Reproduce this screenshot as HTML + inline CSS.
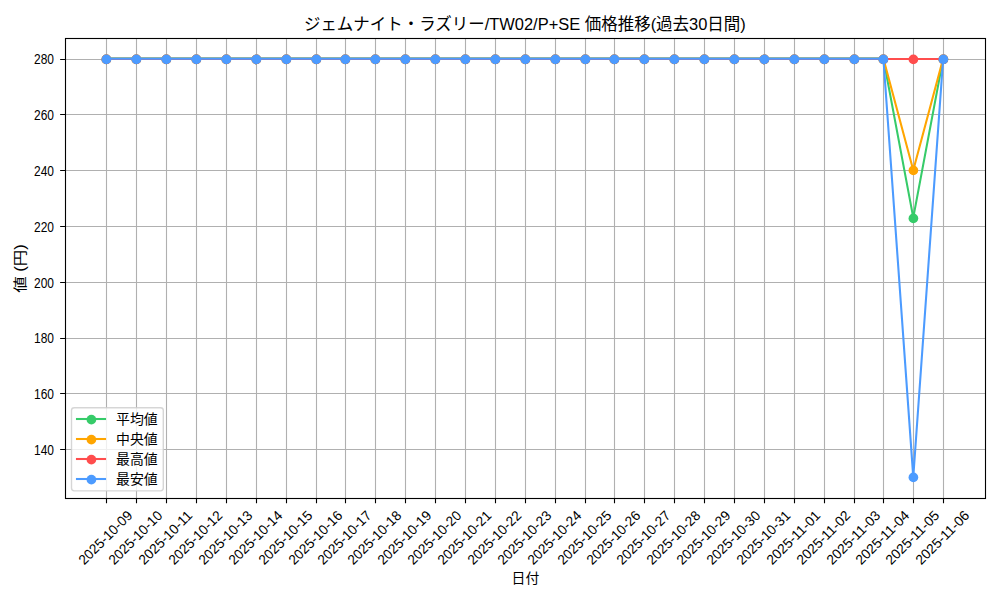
<!DOCTYPE html>
<html lang="ja">
<head>
<meta charset="utf-8">
<title>ジェムナイト・ラズリー/TW02/P+SE 価格推移(過去30日間)</title>
<style>
html,body{margin:0;padding:0;background:#fff;}
body{width:1000px;height:600px;overflow:hidden;font-family:"Liberation Sans",sans-serif;}
svg{display:block;}
svg text{font-family:"Liberation Sans","Noto Sans CJK JP",sans-serif;fill:#000;}
</style>
</head>
<body>
<svg width="1000" height="600" viewBox="0 0 1000 600" role="img" aria-label="ジェムナイト・ラズリー/TW02/P+SE 価格推移(過去30日間)">
<defs><clipPath id="ax"><rect x="65.5" y="38.5" width="920" height="460"/></clipPath></defs>
<rect width="1000" height="600" fill="#fff"/>
<path d="M106.5 37.67V498.02M136.5 37.67V498.02M166.5 37.67V498.02M196.5 37.67V498.02M226.5 37.67V498.02M256.5 37.67V498.02M286.5 37.67V498.02M316.5 37.67V498.02M345.5 37.67V498.02M375.5 37.67V498.02M405.5 37.67V498.02M435.5 37.67V498.02M465.5 37.67V498.02M495.5 37.67V498.02M525.5 37.67V498.02M555.5 37.67V498.02M585.5 37.67V498.02M614.5 37.67V498.02M644.5 37.67V498.02M674.5 37.67V498.02M704.5 37.67V498.02M734.5 37.67V498.02M764.5 37.67V498.02M794.5 37.67V498.02M824.5 37.67V498.02M854.5 37.67V498.02M883.5 37.67V498.02M913.5 37.67V498.02M943.5 37.67V498.02M64.54 449.5H985M64.54 393.5H985M64.54 338.5H985M64.54 282.5H985M64.54 226.5H985M64.54 170.5H985M64.54 114.5H985M64.54 59.5H985" fill="none" stroke="#b0b0b0" stroke-width="1.11" clip-path="url(#ax)"/>
<path d="M106.5 498.5V503.36M136.5 498.5V503.36M166.5 498.5V503.36M196.5 498.5V503.36M226.5 498.5V503.36M256.5 498.5V503.36M286.5 498.5V503.36M316.5 498.5V503.36M345.5 498.5V503.36M375.5 498.5V503.36M405.5 498.5V503.36M435.5 498.5V503.36M465.5 498.5V503.36M495.5 498.5V503.36M525.5 498.5V503.36M555.5 498.5V503.36M585.5 498.5V503.36M614.5 498.5V503.36M644.5 498.5V503.36M674.5 498.5V503.36M704.5 498.5V503.36M734.5 498.5V503.36M764.5 498.5V503.36M794.5 498.5V503.36M824.5 498.5V503.36M854.5 498.5V503.36M883.5 498.5V503.36M913.5 498.5V503.36M943.5 498.5V503.36M65.5 449.5H60.14M65.5 393.5H60.14M65.5 338.5H60.14M65.5 282.5H60.14M65.5 226.5H60.14M65.5 170.5H60.14M65.5 114.5H60.14M65.5 59.5H60.14" fill="none" stroke="#000" stroke-width="1.11"/>
<g clip-path="url(#ax)">
<polyline points="106.38,58.6 136.26,58.6 166.15,58.6 196.03,58.6 225.92,58.6 255.81,58.6 285.69,58.6 315.57,58.6 345.46,58.6 375.34,58.6 405.23,58.6 435.11,58.6 465,58.6 494.88,58.6 524.77,58.6 554.65,58.6 584.54,58.6 614.42,58.6 644.31,58.6 674.19,58.6 704.08,58.6 733.96,58.6 763.85,58.6 793.73,58.6 823.62,58.6 853.5,58.6 883.39,58.6 913.27,217.63 943.16,58.6" fill="none" stroke="#36cb69" stroke-width="2.08" stroke-linejoin="round" stroke-linecap="square"/><g fill="#36cb69"><circle cx="106.4" cy="59.4" r="4.86"/><circle cx="136.4" cy="59.4" r="4.86"/><circle cx="166.4" cy="59.4" r="4.86"/><circle cx="196.4" cy="59.4" r="4.86"/><circle cx="226.4" cy="59.4" r="4.86"/><circle cx="256.4" cy="59.4" r="4.86"/><circle cx="286.4" cy="59.4" r="4.86"/><circle cx="316.4" cy="59.4" r="4.86"/><circle cx="345.4" cy="59.4" r="4.86"/><circle cx="375.4" cy="59.4" r="4.86"/><circle cx="405.4" cy="59.4" r="4.86"/><circle cx="435.4" cy="59.4" r="4.86"/><circle cx="465.4" cy="59.4" r="4.86"/><circle cx="495.4" cy="59.4" r="4.86"/><circle cx="525.4" cy="59.4" r="4.86"/><circle cx="555.4" cy="59.4" r="4.86"/><circle cx="585.4" cy="59.4" r="4.86"/><circle cx="614.4" cy="59.4" r="4.86"/><circle cx="644.4" cy="59.4" r="4.86"/><circle cx="674.4" cy="59.4" r="4.86"/><circle cx="704.4" cy="59.4" r="4.86"/><circle cx="734.4" cy="59.4" r="4.86"/><circle cx="764.4" cy="59.4" r="4.86"/><circle cx="794.4" cy="59.4" r="4.86"/><circle cx="824.4" cy="59.4" r="4.86"/><circle cx="854.4" cy="59.4" r="4.86"/><circle cx="883.4" cy="59.4" r="4.86"/><circle cx="913.4" cy="218.4" r="4.86"/><circle cx="943.4" cy="59.4" r="4.86"/></g>
<polyline points="106.38,58.6 136.26,58.6 166.15,58.6 196.03,58.6 225.92,58.6 255.81,58.6 285.69,58.6 315.57,58.6 345.46,58.6 375.34,58.6 405.23,58.6 435.11,58.6 465,58.6 494.88,58.6 524.77,58.6 554.65,58.6 584.54,58.6 614.42,58.6 644.31,58.6 674.19,58.6 704.08,58.6 733.96,58.6 763.85,58.6 793.73,58.6 823.62,58.6 853.5,58.6 883.39,58.6 913.27,170.2 943.16,58.6" fill="none" stroke="#ffa500" stroke-width="2.08" stroke-linejoin="round" stroke-linecap="square"/><g fill="#ffa500"><circle cx="106.4" cy="59.4" r="4.86"/><circle cx="136.4" cy="59.4" r="4.86"/><circle cx="166.4" cy="59.4" r="4.86"/><circle cx="196.4" cy="59.4" r="4.86"/><circle cx="226.4" cy="59.4" r="4.86"/><circle cx="256.4" cy="59.4" r="4.86"/><circle cx="286.4" cy="59.4" r="4.86"/><circle cx="316.4" cy="59.4" r="4.86"/><circle cx="345.4" cy="59.4" r="4.86"/><circle cx="375.4" cy="59.4" r="4.86"/><circle cx="405.4" cy="59.4" r="4.86"/><circle cx="435.4" cy="59.4" r="4.86"/><circle cx="465.4" cy="59.4" r="4.86"/><circle cx="495.4" cy="59.4" r="4.86"/><circle cx="525.4" cy="59.4" r="4.86"/><circle cx="555.4" cy="59.4" r="4.86"/><circle cx="585.4" cy="59.4" r="4.86"/><circle cx="614.4" cy="59.4" r="4.86"/><circle cx="644.4" cy="59.4" r="4.86"/><circle cx="674.4" cy="59.4" r="4.86"/><circle cx="704.4" cy="59.4" r="4.86"/><circle cx="734.4" cy="59.4" r="4.86"/><circle cx="764.4" cy="59.4" r="4.86"/><circle cx="794.4" cy="59.4" r="4.86"/><circle cx="824.4" cy="59.4" r="4.86"/><circle cx="854.4" cy="59.4" r="4.86"/><circle cx="883.4" cy="59.4" r="4.86"/><circle cx="913.4" cy="170.4" r="4.86"/><circle cx="943.4" cy="59.4" r="4.86"/></g>
<polyline points="106.38,59 136.26,59 166.15,59 196.03,59 225.92,59 255.81,59 285.69,59 315.57,59 345.46,59 375.34,59 405.23,59 435.11,59 465,59 494.88,59 524.77,59 554.65,59 584.54,59 614.42,59 644.31,59 674.19,59 704.08,59 733.96,59 763.85,59 793.73,59 823.62,59 853.5,59 883.39,59 913.27,59 943.16,59" fill="none" stroke="#ff4d4d" stroke-width="2.08" stroke-linejoin="round" stroke-linecap="square"/><g fill="#ff4d4d"><circle cx="106.4" cy="59.4" r="4.86"/><circle cx="136.4" cy="59.4" r="4.86"/><circle cx="166.4" cy="59.4" r="4.86"/><circle cx="196.4" cy="59.4" r="4.86"/><circle cx="226.4" cy="59.4" r="4.86"/><circle cx="256.4" cy="59.4" r="4.86"/><circle cx="286.4" cy="59.4" r="4.86"/><circle cx="316.4" cy="59.4" r="4.86"/><circle cx="345.4" cy="59.4" r="4.86"/><circle cx="375.4" cy="59.4" r="4.86"/><circle cx="405.4" cy="59.4" r="4.86"/><circle cx="435.4" cy="59.4" r="4.86"/><circle cx="465.4" cy="59.4" r="4.86"/><circle cx="495.4" cy="59.4" r="4.86"/><circle cx="525.4" cy="59.4" r="4.86"/><circle cx="555.4" cy="59.4" r="4.86"/><circle cx="585.4" cy="59.4" r="4.86"/><circle cx="614.4" cy="59.4" r="4.86"/><circle cx="644.4" cy="59.4" r="4.86"/><circle cx="674.4" cy="59.4" r="4.86"/><circle cx="704.4" cy="59.4" r="4.86"/><circle cx="734.4" cy="59.4" r="4.86"/><circle cx="764.4" cy="59.4" r="4.86"/><circle cx="794.4" cy="59.4" r="4.86"/><circle cx="824.4" cy="59.4" r="4.86"/><circle cx="854.4" cy="59.4" r="4.86"/><circle cx="883.4" cy="59.4" r="4.86"/><circle cx="913.4" cy="59.4" r="4.86"/><circle cx="943.4" cy="59.4" r="4.86"/></g>
<polyline points="106.38,58.6 136.26,58.6 166.15,58.6 196.03,58.6 225.92,58.6 255.81,58.6 285.69,58.6 315.57,58.6 345.46,58.6 375.34,58.6 405.23,58.6 435.11,58.6 465,58.6 494.88,58.6 524.77,58.6 554.65,58.6 584.54,58.6 614.42,58.6 644.31,58.6 674.19,58.6 704.08,58.6 733.96,58.6 763.85,58.6 793.73,58.6 823.62,58.6 853.5,58.6 883.39,58.6 913.27,477.1 943.16,58.6" fill="none" stroke="#4c9bff" stroke-width="2.08" stroke-linejoin="round" stroke-linecap="square"/><g fill="#4c9bff"><circle cx="106.4" cy="59.4" r="4.86"/><circle cx="136.4" cy="59.4" r="4.86"/><circle cx="166.4" cy="59.4" r="4.86"/><circle cx="196.4" cy="59.4" r="4.86"/><circle cx="226.4" cy="59.4" r="4.86"/><circle cx="256.4" cy="59.4" r="4.86"/><circle cx="286.4" cy="59.4" r="4.86"/><circle cx="316.4" cy="59.4" r="4.86"/><circle cx="345.4" cy="59.4" r="4.86"/><circle cx="375.4" cy="59.4" r="4.86"/><circle cx="405.4" cy="59.4" r="4.86"/><circle cx="435.4" cy="59.4" r="4.86"/><circle cx="465.4" cy="59.4" r="4.86"/><circle cx="495.4" cy="59.4" r="4.86"/><circle cx="525.4" cy="59.4" r="4.86"/><circle cx="555.4" cy="59.4" r="4.86"/><circle cx="585.4" cy="59.4" r="4.86"/><circle cx="614.4" cy="59.4" r="4.86"/><circle cx="644.4" cy="59.4" r="4.86"/><circle cx="674.4" cy="59.4" r="4.86"/><circle cx="704.4" cy="59.4" r="4.86"/><circle cx="734.4" cy="59.4" r="4.86"/><circle cx="764.4" cy="59.4" r="4.86"/><circle cx="794.4" cy="59.4" r="4.86"/><circle cx="824.4" cy="59.4" r="4.86"/><circle cx="854.4" cy="59.4" r="4.86"/><circle cx="883.4" cy="59.4" r="4.86"/><circle cx="913.4" cy="477.4" r="4.86"/><circle cx="943.4" cy="59.4" r="4.86"/></g>
</g>
<rect x="65.5" y="38.5" width="920" height="460" fill="none" stroke="#000" stroke-width="1.11"/>
<g font-size="13.89" text-anchor="end">
<text x="54" y="455" textLength="20" lengthAdjust="spacingAndGlyphs">140</text>
<text x="54" y="399" textLength="20" lengthAdjust="spacingAndGlyphs">160</text>
<text x="54" y="343" textLength="20" lengthAdjust="spacingAndGlyphs">180</text>
<text x="54" y="288" textLength="20" lengthAdjust="spacingAndGlyphs">200</text>
<text x="54" y="232" textLength="20" lengthAdjust="spacingAndGlyphs">220</text>
<text x="54" y="176" textLength="20" lengthAdjust="spacingAndGlyphs">240</text>
<text x="54" y="120" textLength="20" lengthAdjust="spacingAndGlyphs">260</text>
<text x="54" y="64" textLength="20" lengthAdjust="spacingAndGlyphs">280</text>
</g>
<g font-size="13.89">
<text transform="translate(84.15 565.52) rotate(-45)" textLength="69.4" lengthAdjust="spacingAndGlyphs">2025-10-09</text>
<text transform="translate(114.15 565.52) rotate(-45)" textLength="69.4" lengthAdjust="spacingAndGlyphs">2025-10-10</text>
<text transform="translate(144.15 565.52) rotate(-45)" textLength="69.4" lengthAdjust="spacingAndGlyphs">2025-10-11</text>
<text transform="translate(174.15 565.52) rotate(-45)" textLength="69.4" lengthAdjust="spacingAndGlyphs">2025-10-12</text>
<text transform="translate(204.15 565.52) rotate(-45)" textLength="69.4" lengthAdjust="spacingAndGlyphs">2025-10-13</text>
<text transform="translate(234.15 565.52) rotate(-45)" textLength="69.4" lengthAdjust="spacingAndGlyphs">2025-10-14</text>
<text transform="translate(264.15 565.52) rotate(-45)" textLength="69.4" lengthAdjust="spacingAndGlyphs">2025-10-15</text>
<text transform="translate(294.15 565.52) rotate(-45)" textLength="69.4" lengthAdjust="spacingAndGlyphs">2025-10-16</text>
<text transform="translate(323.15 565.52) rotate(-45)" textLength="69.4" lengthAdjust="spacingAndGlyphs">2025-10-17</text>
<text transform="translate(353.15 565.52) rotate(-45)" textLength="69.4" lengthAdjust="spacingAndGlyphs">2025-10-18</text>
<text transform="translate(383.15 565.52) rotate(-45)" textLength="69.4" lengthAdjust="spacingAndGlyphs">2025-10-19</text>
<text transform="translate(413.15 565.52) rotate(-45)" textLength="69.4" lengthAdjust="spacingAndGlyphs">2025-10-20</text>
<text transform="translate(443.15 565.52) rotate(-45)" textLength="69.4" lengthAdjust="spacingAndGlyphs">2025-10-21</text>
<text transform="translate(473.15 565.52) rotate(-45)" textLength="69.4" lengthAdjust="spacingAndGlyphs">2025-10-22</text>
<text transform="translate(503.15 565.52) rotate(-45)" textLength="69.4" lengthAdjust="spacingAndGlyphs">2025-10-23</text>
<text transform="translate(533.15 565.52) rotate(-45)" textLength="69.4" lengthAdjust="spacingAndGlyphs">2025-10-24</text>
<text transform="translate(563.15 565.52) rotate(-45)" textLength="69.4" lengthAdjust="spacingAndGlyphs">2025-10-25</text>
<text transform="translate(592.15 565.52) rotate(-45)" textLength="69.4" lengthAdjust="spacingAndGlyphs">2025-10-26</text>
<text transform="translate(622.15 565.52) rotate(-45)" textLength="69.4" lengthAdjust="spacingAndGlyphs">2025-10-27</text>
<text transform="translate(652.15 565.52) rotate(-45)" textLength="69.4" lengthAdjust="spacingAndGlyphs">2025-10-28</text>
<text transform="translate(682.15 565.52) rotate(-45)" textLength="69.4" lengthAdjust="spacingAndGlyphs">2025-10-29</text>
<text transform="translate(712.15 565.52) rotate(-45)" textLength="69.4" lengthAdjust="spacingAndGlyphs">2025-10-30</text>
<text transform="translate(742.15 565.52) rotate(-45)" textLength="69.4" lengthAdjust="spacingAndGlyphs">2025-10-31</text>
<text transform="translate(772.15 565.52) rotate(-45)" textLength="69.4" lengthAdjust="spacingAndGlyphs">2025-11-01</text>
<text transform="translate(802.15 565.52) rotate(-45)" textLength="69.4" lengthAdjust="spacingAndGlyphs">2025-11-02</text>
<text transform="translate(832.15 565.52) rotate(-45)" textLength="69.4" lengthAdjust="spacingAndGlyphs">2025-11-03</text>
<text transform="translate(861.15 565.52) rotate(-45)" textLength="69.4" lengthAdjust="spacingAndGlyphs">2025-11-04</text>
<text transform="translate(891.15 565.52) rotate(-45)" textLength="69.4" lengthAdjust="spacingAndGlyphs">2025-11-05</text>
<text transform="translate(921.15 565.52) rotate(-45)" textLength="69.4" lengthAdjust="spacingAndGlyphs">2025-11-06</text>
</g>
<text x="303.94" y="29.6" font-size="16.67" textLength="441.8" lengthAdjust="spacingAndGlyphs">ジェムナイト・ラズリー/TW02/P+SE 価格推移(過去30日間)</text>
<text x="525.5" y="583.35" font-size="13.89" text-anchor="middle">日付</text>
<text transform="translate(25 292.81) rotate(-90)" font-size="13.89" textLength="48.6" lengthAdjust="spacingAndGlyphs">値 (円)</text>
<rect x="71.5" y="407.8" width="91.8" height="83.1" rx="2.78" fill="#fff" fill-opacity="0.8" stroke="#ccc" stroke-opacity="0.8" stroke-width="1.39"/>
<path d="M77 419H105" stroke="#36cb69" stroke-width="2.08" stroke-linecap="square" fill="none"/>
<circle cx="91.4" cy="419.65" r="4.86" fill="#36cb69"/>
<text x="116" y="424" font-size="13.89">平均値</text>
<path d="M77 439H105" stroke="#ffa500" stroke-width="2.08" stroke-linecap="square" fill="none"/>
<circle cx="91.4" cy="439.65" r="4.86" fill="#ffa500"/>
<text x="116" y="444" font-size="13.89">中央値</text>
<path d="M77 459H105" stroke="#ff4d4d" stroke-width="2.08" stroke-linecap="square" fill="none"/>
<circle cx="91.4" cy="459.65" r="4.86" fill="#ff4d4d"/>
<text x="116" y="464" font-size="13.89">最高値</text>
<path d="M77 479H105" stroke="#4c9bff" stroke-width="2.08" stroke-linecap="square" fill="none"/>
<circle cx="91.4" cy="479.65" r="4.86" fill="#4c9bff"/>
<text x="116" y="484" font-size="13.89">最安値</text>
</svg>
</body>
</html>
